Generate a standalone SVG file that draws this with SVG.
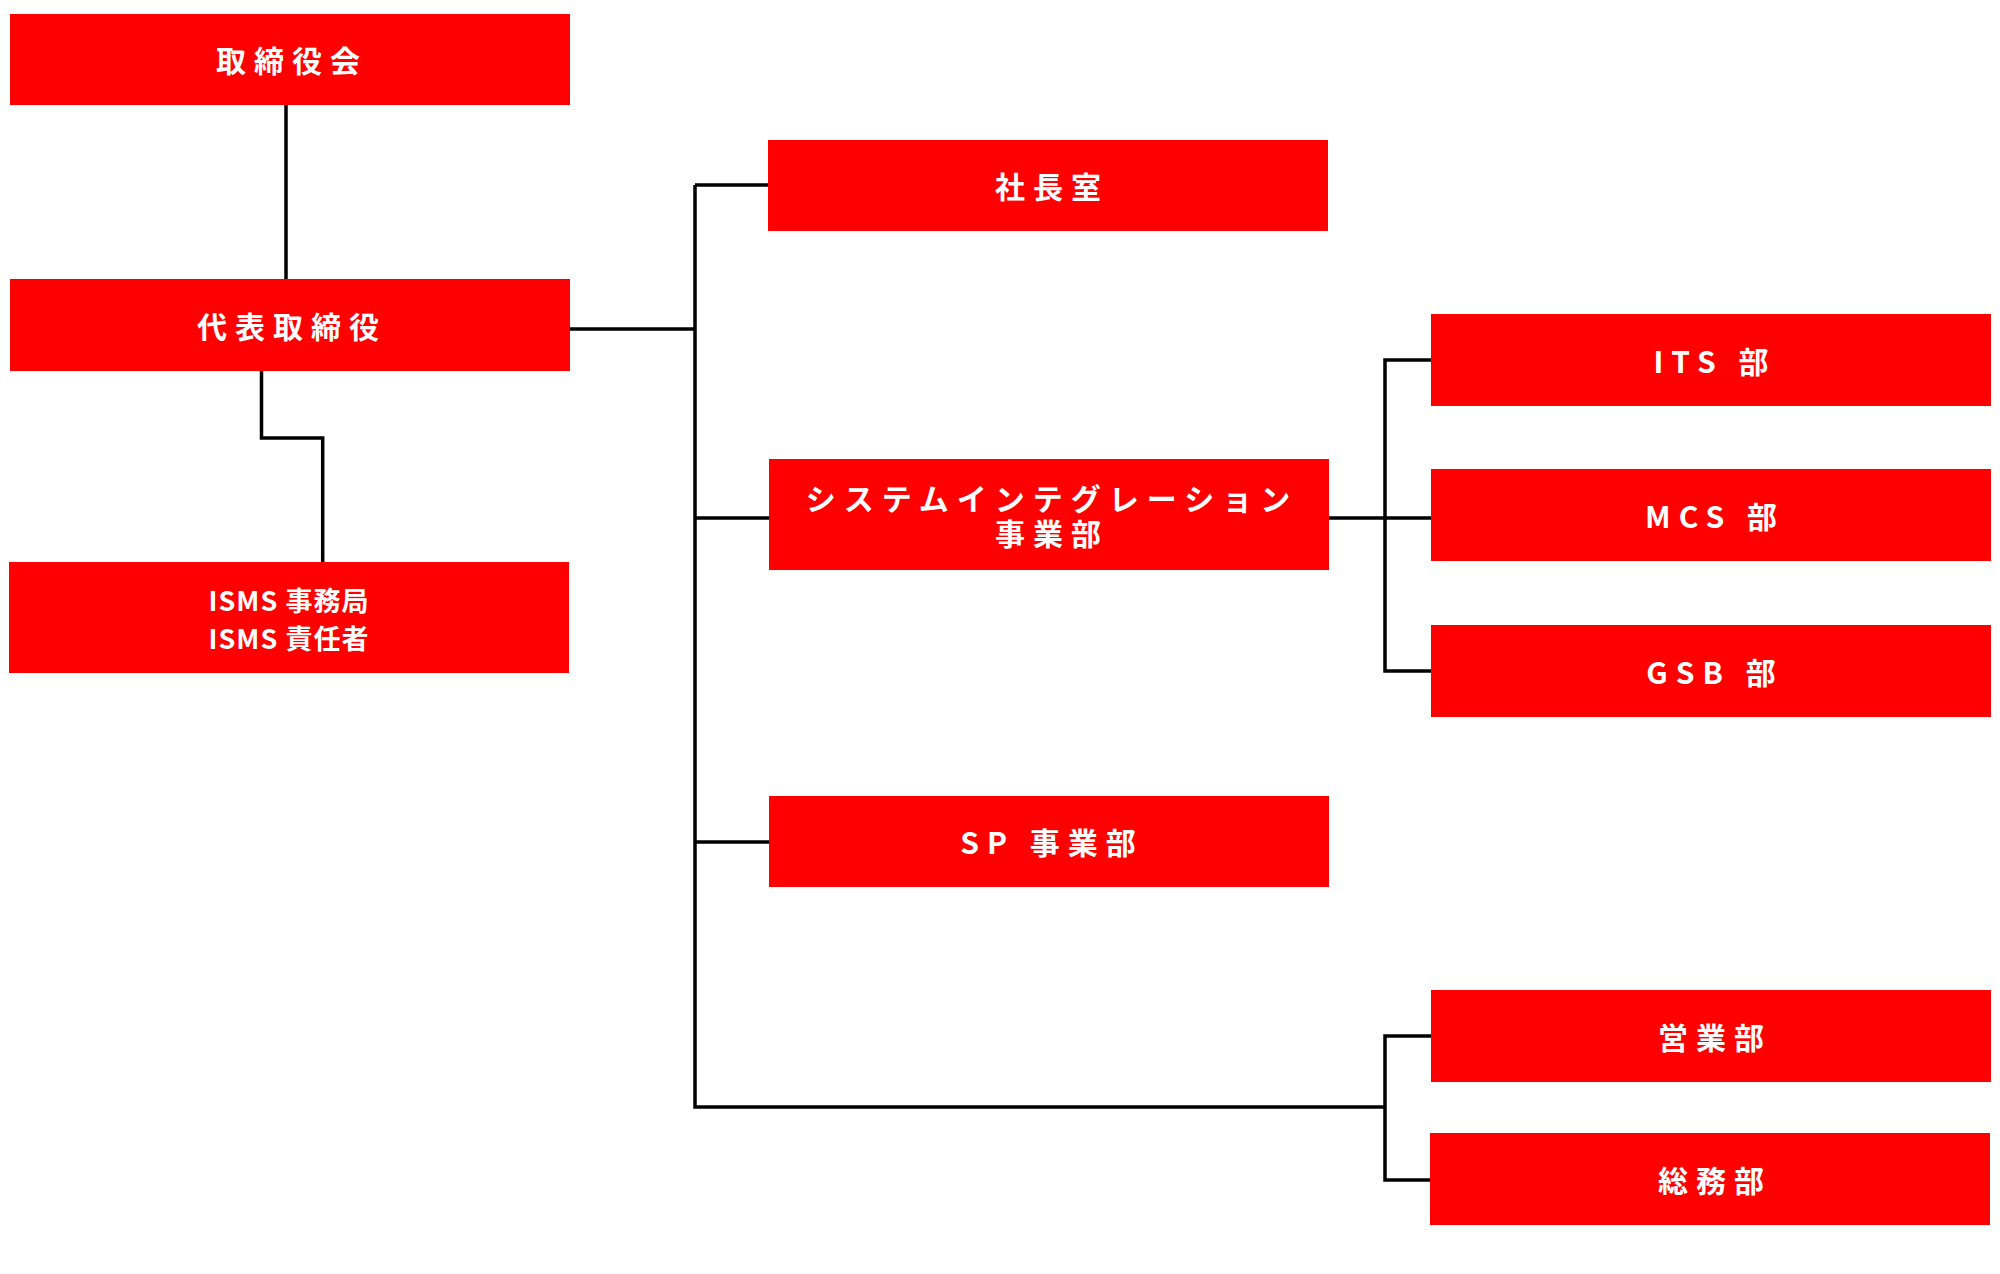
<svg xmlns="http://www.w3.org/2000/svg" width="2000" height="1274" viewBox="0 0 2000 1274">
<style>
.b{fill:#ff0000}
.t{fill:#fff;font-family:"Noto Sans CJK JP","Noto Sans",sans-serif;font-weight:bold;font-size:30px;letter-spacing:8px;text-anchor:middle;dominant-baseline:central}
.s{letter-spacing:1px;font-size:27px}
.c{fill:none;stroke:#000;stroke-width:3.5}
</style>
<rect width="2000" height="1274" fill="#fff"/>
<g id="connectors" class="c">
<path d="M286 105V279"/>
<path d="M261.5 371V438H322.7V562"/>
<path d="M570 329H695"/>
<path d="M695 185V1107H1385"/>
<path d="M695 185H768M695 518H769M695 842H769"/>
<path d="M1329 518H1431M1431 360H1385V671H1431"/>
<path d="M1431 1036H1385V1180H1431"/>
</g>
<g id="n1"><rect class="b" x="10" y="14" width="560" height="91"/><text class="t" x="292" y="59">取締役会</text></g>
<g id="n2"><rect class="b" x="10" y="279" width="560" height="92"/><text class="t" x="292" y="325">代表取締役</text></g>
<g id="n3"><rect class="b" x="9" y="562" width="560" height="111"/><text class="t s" x="289" y="599">ISMS 事務局</text><text class="t s" x="289" y="637">ISMS 責任者</text></g>
<g id="n4"><rect class="b" x="768" y="140" width="560" height="91"/><text class="t" x="1052" y="185">社長室</text></g>
<g id="n5"><rect class="b" x="769" y="459" width="560" height="111"/><text class="t" x="1052" y="497">システムインテグレーション</text><text class="t" x="1052" y="532">事業部</text></g>
<g id="n6"><rect class="b" x="769" y="796" width="560" height="91"/><text class="t" x="1052" y="841">SP 事業部</text></g>
<g id="n7"><rect class="b" x="1431" y="314" width="560" height="92"/><text class="t" x="1715" y="360">ITS 部</text></g>
<g id="n8"><rect class="b" x="1431" y="469" width="560" height="92"/><text class="t" x="1715" y="515">MCS 部</text></g>
<g id="n9"><rect class="b" x="1431" y="625" width="560" height="92"/><text class="t" x="1715" y="671">GSB 部</text></g>
<g id="n10"><rect class="b" x="1431" y="990" width="560" height="92"/><text class="t" x="1715" y="1036">営業部</text></g>
<g id="n11"><rect class="b" x="1430" y="1133" width="560" height="92"/><text class="t" x="1715" y="1179">総務部</text></g>
</svg>
